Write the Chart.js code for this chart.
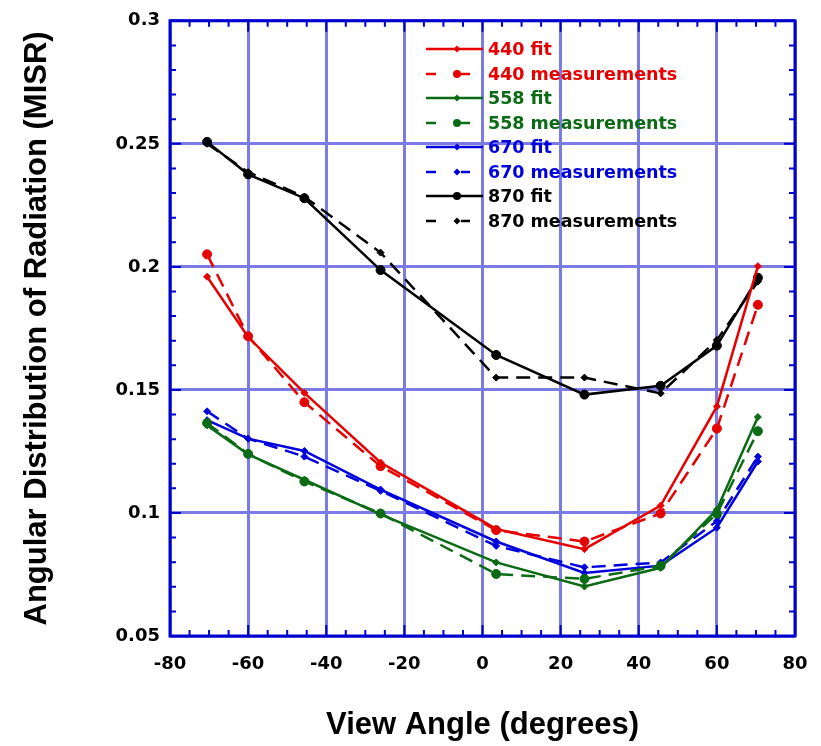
<!DOCTYPE html>
<html><head><meta charset="utf-8">
<script src="https://cdn.jsdelivr.net/npm/chart.js@4.4.1/dist/chart.umd.min.js"></script>
<style>
html,body{margin:0;padding:0;background:#fff;}
#wrap{position:relative;width:821px;height:746px;}
#legend{position:absolute;left:424px;top:37px;font:bold 17.5px "DejaVu Sans";}
.row{display:flex;align-items:center;height:24.5px;white-space:nowrap;}
.row svg{width:62px;height:24px;flex:none;}
.row span{margin-left:2px;}
</style></head><body>
<div id="wrap"><canvas id="c" width="821" height="746"></canvas><div id="legend"></div></div>
<script>
// ---- data ----
const angles = [-70.5, -60, -45.6, -26.1, 3.5, 26.1, 45.6, 60, 70.5];
const fit440  = [0.1960, 0.1715, 0.1488, 0.1205, 0.0935, 0.0853, 0.1030, 0.1433, 0.2003];
const meas440 = [0.2051, 0.1718, 0.1450, 0.1190, 0.0930, 0.0884, 0.0998, 0.1343, 0.1846];
const fit558  = [0.1356, 0.1238, 0.1135, 0.0994, 0.0799, 0.0701, 0.0777, 0.1014, 0.1390];
const meas558 = [0.1365, 0.1240, 0.1128, 0.0998, 0.0752, 0.0732, 0.0785, 0.0997, 0.1332];
const fit670  = [0.1377, 0.1302, 0.1252, 0.1095, 0.0884, 0.0756, 0.0786, 0.0940, 0.1209];
const meas670 = [0.1413, 0.1302, 0.1229, 0.1090, 0.0866, 0.0779, 0.0799, 0.0967, 0.1229];
const fit870  = [0.2508, 0.2376, 0.2279, 0.1987, 0.1642, 0.1481, 0.1517, 0.1680, 0.1956];
const meas870 = [0.2500, 0.2385, 0.2285, 0.2058, 0.1550, 0.1550, 0.1486, 0.1703, 0.1940];
const seriesLabels = ['440 fit', '440 measurements', '558 fit', '558 measurements',
                      '670 fit', '670 measurements', '870 fit', '870 measurements'];
const xTickValues = [-80, -60, -40, -20, 0, 20, 40, 60, 80];
const yTickValues = [0.05, 0.1, 0.15, 0.2, 0.25, 0.3];
const xTitle = 'View Angle (degrees)';
const yTitle = 'Angular Distribution of Radiation (MISR)';

// ---- styles ----
const RED = '#e60000', GREEN = '#0b6b14', BLUE = '#0000dd', BLACK = '#000000';
const AXIS = '#0000cc', GRID = '#7b7be6';
const DASH = [14, 8];

function pts(vals) { return angles.map((a, i) => ({x: a, y: vals[i]})); }
function ds(label, vals, color, dashed, pstyle, prad) {
  return {
    label, data: pts(vals), borderColor: color, backgroundColor: color,
    pointBackgroundColor: color, pointBorderColor: color, borderWidth: 2.5,
    borderDash: dashed ? DASH : [], pointStyle: pstyle, pointRadius: prad,
    pointBorderWidth: 1, tension: 0, fill: false
  };
}
const datasets = [
  ds(seriesLabels[0], fit440, RED, false, 'rectRot', 3.5),
  ds(seriesLabels[1], meas440, RED, true, 'circle', 4.5),
  ds(seriesLabels[2], fit558, GREEN, false, 'rectRot', 3.5),
  ds(seriesLabels[3], meas558, GREEN, true, 'circle', 4.5),
  ds(seriesLabels[4], fit670, BLUE, false, 'rectRot', 3.5),
  ds(seriesLabels[5], meas670, BLUE, true, 'rectRot', 3.5),
  ds(seriesLabels[6], fit870, BLACK, false, 'circle', 4.5),
  ds(seriesLabels[7], meas870, BLACK, true, 'rectRot', 3.5)
];

const frameTicks = {
  id: 'frameTicks',
  beforeDatasetsDraw(chart) {
    const {ctx, chartArea: a, scales: {x, y}} = chart;
    ctx.save();
    ctx.strokeStyle = AXIS;
    ctx.lineWidth = 2;
    ctx.beginPath();
    for (let i = 0; i <= 32; i++) {
      const px = x.getPixelForValue(-80 + 5 * i);
      const len = i % 4 === 0 ? 11 : 6;
      ctx.moveTo(px, a.bottom); ctx.lineTo(px, a.bottom - len);
      ctx.moveTo(px, a.top); ctx.lineTo(px, a.top + len);
    }
    for (let i = 0; i <= 25; i++) {
      const py = y.getPixelForValue(0.05 + 0.01 * i);
      const len = i % 5 === 0 ? 11 : 6;
      ctx.moveTo(a.left, py); ctx.lineTo(a.left + len, py);
      ctx.moveTo(a.right, py); ctx.lineTo(a.right - len, py);
    }
    ctx.stroke();
    ctx.lineWidth = 3;
    ctx.strokeRect(a.left, a.top, a.right - a.left, a.bottom - a.top);
    ctx.restore();
  }
};

new Chart(document.getElementById('c'), {
  type: 'line',
  data: {datasets},
  options: {
    responsive: false, animation: false, devicePixelRatio: 1,
    layout: {padding: {top: 15, right: 26, left: 0, bottom: 0}},
    plugins: {legend: {display: false}, tooltip: {enabled: false}},
    scales: {
      x: {
        type: 'linear', min: -80, max: 80,
        afterFit: s => { s.height = 110; },
        afterBuildTicks: s => { s.ticks = xTickValues.map(v => ({value: v})); },
        ticks: {color: '#000', padding: 13, maxRotation: 0,
                font: {family: 'DejaVu Sans', weight: 'bold', size: 18, lineHeight: 1.65}},
        grid: {color: GRID, lineWidth: 3, drawTicks: false},
        border: {display: false},
        title: {display: true, text: xTitle, color: '#000',
                font: {family: 'Liberation Sans', weight: 'bold', size: 31},
                padding: {top: 0, bottom: 2}}
      },
      y: {
        type: 'linear', min: 0.05, max: 0.3,
        afterFit: s => { s.width = 170; },
        afterBuildTicks: s => { s.ticks = yTickValues.map(v => ({value: v})); },
        ticks: {color: '#000', padding: 10,
                font: {family: 'DejaVu Sans', weight: 'bold', size: 18},
                callback: v => String(+v.toFixed(2))},
        grid: {color: GRID, lineWidth: 3, drawTicks: false},
        border: {display: false},
        title: {display: true, text: yTitle, color: '#000',
                font: {family: 'Liberation Sans', weight: 'bold', size: 31},
                padding: {top: 19, bottom: 0}}
      }
    }
  },
  plugins: [frameTicks]
});

// ---- legend (HTML, built from the dataset definitions) ----
const leg = document.getElementById('legend');
datasets.forEach(d => {
  const c = d.borderColor;
  const dashed = d.borderDash.length > 0;
  let line = dashed
    ? `<line x1="2" y1="12" x2="12" y2="12" stroke="${c}" stroke-width="2.5"/><line x1="37" y1="12" x2="46" y2="12" stroke="${c}" stroke-width="2.5"/>`
    : `<line x1="2" y1="12" x2="59" y2="12" stroke="${c}" stroke-width="2.5"/>`;
  let mark = d.pointStyle === 'circle'
    ? `<circle cx="33" cy="12" r="${d.pointRadius - 0.5}" fill="${c}"/>`
    : `<polygon points="33,8.5 36.5,12 33,15.5 29.5,12" fill="${c}"/>`;
  const row = document.createElement('div');
  row.className = 'row';
  row.innerHTML = `<svg viewBox="0 0 62 24">${line}${mark}</svg><span style="color:${c}">${d.label}</span>`;
  leg.appendChild(row);
});
</script>
</body></html>
